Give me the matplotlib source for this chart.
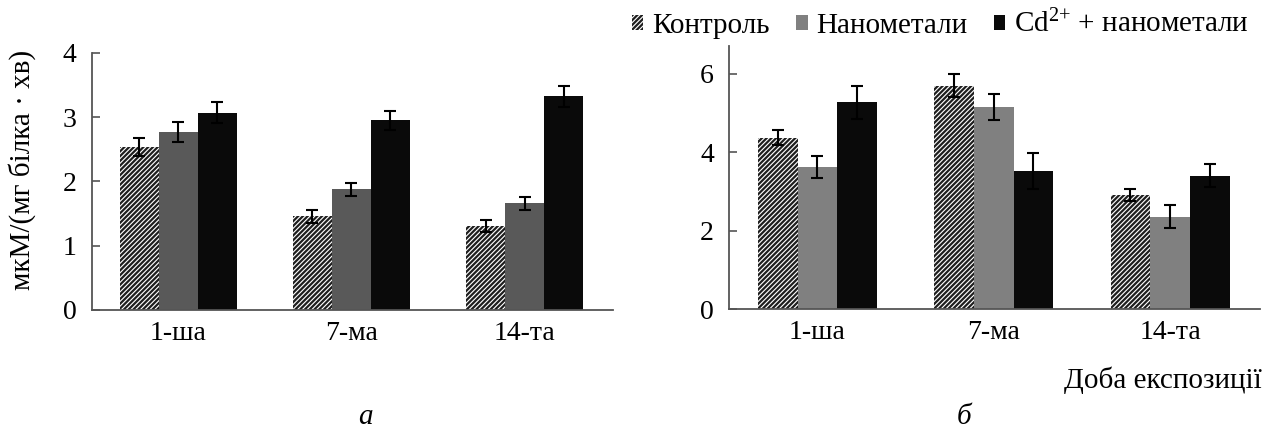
import numpy as np
import matplotlib
matplotlib.use('Agg')
import matplotlib.pyplot as plt

plt.rcParams['font.family'] = ['Liberation Serif', 'DejaVu Serif']
plt.rcParams['mathtext.default'] = 'regular'
plt.rcParams['hatch.linewidth'] = 1.6

# Дані
days = ['1-ша', '7-ма', '14-та']
labels = ['Контроль', 'Нанометали', 'Cd$^{2{+}}$ + нанометали']

# панель а
a_ctrl = [2.53, 1.46, 1.31]
a_ctrl_err = [0.14, 0.10, 0.09]
a_nano = [2.77, 1.88, 1.66]
a_nano_err = [0.16, 0.10, 0.10]
a_cd = [3.07, 2.95, 3.32]
a_cd_err = [0.16, 0.15, 0.17]

# панель б
b_ctrl = [4.37, 5.69, 2.91]
b_ctrl_err = [0.20, 0.30, 0.15]
b_nano = [3.61, 5.15, 2.36]
b_nano_err = [0.28, 0.33, 0.30]
b_cd = [5.27, 3.52, 3.40]
b_cd_err = [0.42, 0.45, 0.29]

fig = plt.figure(figsize=(12.66, 4.30), dpi=100)
ax1 = fig.add_axes([0.0724, 0.2791, 0.4118, 0.5983])
ax2 = fig.add_axes([0.5761, 0.2807, 0.4192, 0.6123])

x = np.arange(len(days))
w = 0.225
err_kw = dict(ecolor='black', elinewidth=1.5, capsize=4, capthick=1.5)


def draw(ax, ctrl, ctrl_err, nano, nano_err, cd, cd_err, gray, ymax, yticks):
    b1 = ax.bar(x - w, ctrl, w, yerr=ctrl_err, color='white', edgecolor='#1e1e1e',
                hatch='///////', linewidth=0, error_kw=err_kw)
    b2 = ax.bar(x, nano, w, yerr=nano_err, color=gray, linewidth=0, error_kw=err_kw)
    b3 = ax.bar(x + w, cd, w, yerr=cd_err, color='#0a0a0a', linewidth=0, error_kw=err_kw)
    ax.set_xlim(-0.5, 2.51)
    ax.set_ylim(0, ymax)
    ax.set_yticks(yticks)
    ax.set_xticks(x)
    ax.set_xticklabels(days)
    for s in ['top', 'right']:
        ax.spines[s].set_visible(False)
    for s in ['left', 'bottom']:
        ax.spines[s].set_color('#555555')
        ax.spines[s].set_linewidth(1.3)
    ax.tick_params(axis='y', direction='in', length=5.5, width=1.2, color='#555555',
                   pad=11, labelsize=20)
    ax.tick_params(axis='x', length=0, pad=8, labelsize=20)
    return b1, b2, b3


draw(ax1, a_ctrl, a_ctrl_err, a_nano, a_nano_err, a_cd, a_cd_err, '#595959', 4, [0, 1, 2, 3, 4])
handles = draw(ax2, b_ctrl, b_ctrl_err, b_nano, b_nano_err, b_cd, b_cd_err, '#808080', 6.7, [0, 2, 4, 6])

fig.legend(handles, labels, loc='upper right', bbox_to_anchor=(0.998, 1.01), ncol=3,
           frameon=False, fontsize=21, handlelength=0.4, handleheight=0.4,
           handletextpad=0.3, columnspacing=0.9, borderaxespad=0.1)

fig.text(22 / 1266, 1 - 170 / 430, 'мкМ/(мг білка · хв)', rotation=90,
         ha='center', va='center', fontsize=21)
fig.text(1262 / 1266, 1 - 380 / 430, 'Доба експозиції', ha='right', va='center', fontsize=21)
fig.text(365 / 1266, 1 - 417 / 430, 'а', ha='center', va='center', fontsize=21, style='italic')
fig.text(964 / 1266, 1 - 417 / 430, 'б', ha='center', va='center', fontsize=21, style='italic')

fig.savefig('out.png', dpi=100)
